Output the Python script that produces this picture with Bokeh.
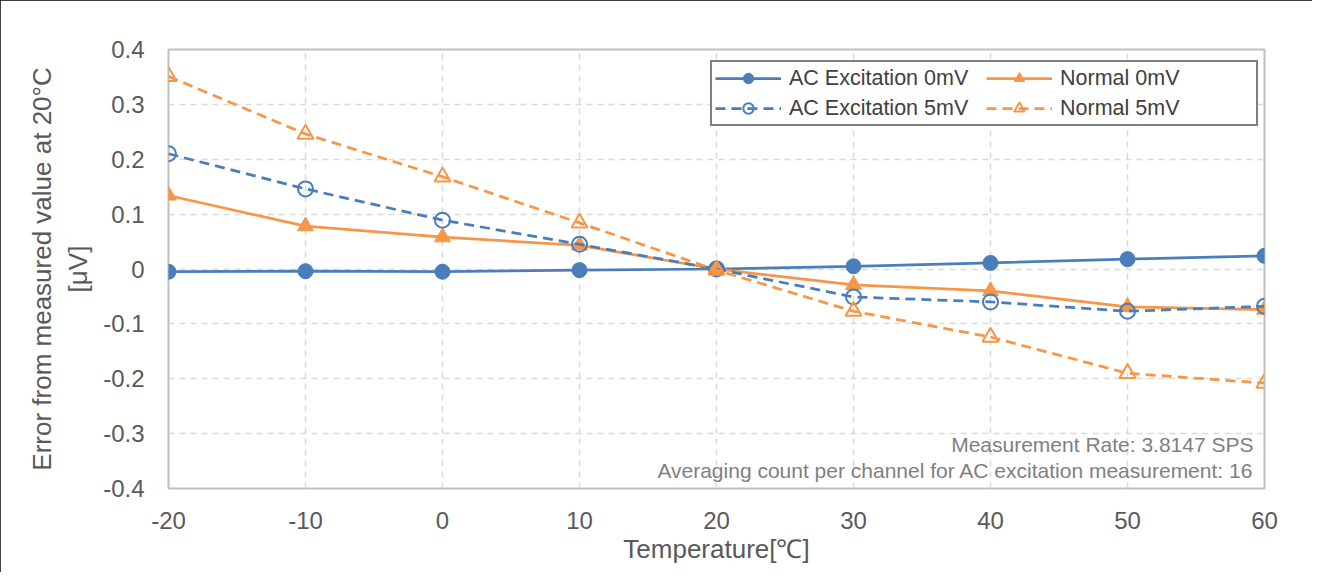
from bokeh.plotting import figure
from bokeh.models import Legend, LegendItem, Label, FixedTicker, Range1d, InlineStyleSheet
from bokeh.embed import file_html
from bokeh.resources import INLINE

temps = [-20, -10, 0, 10, 20, 30, 40, 50, 60]
ac_0mv = [-0.005, -0.004, -0.005, -0.002, 0.0, 0.005, 0.011, 0.018, 0.024]
normal_0mv = [0.134, 0.078, 0.058, 0.043, 0.0, -0.029, -0.040, -0.069, -0.074]
ac_5mv = [0.210, 0.146, 0.089, 0.045, 0.0, -0.051, -0.060, -0.077, -0.068]
normal_5mv = [0.351, 0.246, 0.168, 0.084, -0.002, -0.077, -0.124, -0.190, -0.208]
x_ticks = [-20, -10, 0, 10, 20, 30, 40, 50, 60]
y_ticks = [-0.4, -0.3, -0.2, -0.1, 0, 0.1, 0.2, 0.3, 0.4]
notes = ["Measurement Rate: 3.8147 SPS",
         "Averaging count per channel for AC excitation measurement: 16"]

BLUE = "#4a7ebb"
ORANGE = "#f79646"
FONT = "Liberation Sans"

border_css = InlineStyleSheet(css=":host { outline: 2px solid black; outline-offset: -2px; }")

p = figure(width=1312, height=572, output_backend="svg", toolbar_location=None,
           x_range=Range1d(-20, 60), y_range=Range1d(-0.4, 0.4),
           min_border_left=168, min_border_right=48, min_border_top=49, min_border_bottom=84,
           stylesheets=[border_css])
p.background_fill_color = "white"
p.border_fill_color = "white"
p.outline_line_color = "#bfbfbf"
p.outline_line_width = 2

for ax in (p.xaxis[0], p.yaxis[0]):
    ax.axis_line_color = None
    ax.major_tick_line_color = None
    ax.minor_tick_line_color = None
    ax.major_tick_out = 0
    ax.major_tick_in = 0
    ax.major_label_text_font = FONT
    ax.major_label_text_font_size = "24px"
    ax.major_label_text_color = "#595959"
    ax.axis_label_text_font = FONT
    ax.axis_label_text_font_size = "26px"
    ax.axis_label_text_color = "#595959"
    ax.axis_label_text_font_style = "normal"

p.xaxis.ticker = FixedTicker(ticks=x_ticks)
p.yaxis.ticker = FixedTicker(ticks=y_ticks)
p.xaxis.major_label_overrides = {v: str(v) for v in x_ticks}
p.yaxis.major_label_overrides = {v: ("0" if v == 0 else f"{v:.1f}") for v in y_ticks}
p.xaxis.major_label_standoff = 23
p.yaxis.major_label_standoff = 24
p.xaxis.axis_label = "Temperature[℃]"
p.yaxis.axis_label = "Error from measured value at 20°C\n[μV]"
p.xaxis.axis_label_standoff = 2
p.yaxis.axis_label_standoff = 7

p.grid.grid_line_color = "#d9d9d9"
p.grid.grid_line_dash = "6 5"
p.grid.grid_line_width = 1.5

l1 = p.line(temps, ac_0mv, color=BLUE, line_width=2.75)
m1 = p.scatter(temps, ac_0mv, marker="circle", size=15, color=BLUE)
l2 = p.line(temps, normal_0mv, color=ORANGE, line_width=2.75)
m2 = p.scatter(temps, normal_0mv, marker="triangle", size=16, color=ORANGE)
l3 = p.line(temps, ac_5mv, color=BLUE, line_width=2.75, line_dash="10 6")
m3 = p.scatter(temps, ac_5mv, marker="circle", size=15, line_color=BLUE,
               fill_color="white", fill_alpha=0.0, line_width=2)
l4 = p.line(temps, normal_5mv, color=ORANGE, line_width=2.75, line_dash="10 6")
m4 = p.scatter(temps, normal_5mv, marker="triangle", size=16, line_color=ORANGE,
               fill_color="white", fill_alpha=0.0, line_width=2)

legend = Legend(items=[
    LegendItem(label="AC Excitation 0mV", renderers=[l1, m1]),
    LegendItem(label="AC Excitation 5mV", renderers=[l3, m3]),
    LegendItem(label="Normal 0mV", renderers=[l2, m2]),
    LegendItem(label="Normal 5mV", renderers=[l4, m4]),
], location=(542, 362), ncols=2)
legend.glyph_width = 66
legend.glyph_height = 26
legend.label_width = 193
legend.label_text_font = FONT
legend.label_text_font_size = "21.5px"
legend.label_text_color = "#404040"
legend.border_line_color = "black"
legend.border_line_width = 2
legend.padding = 3
legend.spacing = 4
legend.label_standoff = 8
legend.margin = 0
legend.background_fill_alpha = 1.0
p.add_layout(legend, "center")

note_y = [-0.32, -0.367]
for txt, yy in zip(notes, note_y):
    p.add_layout(Label(x=60, y=yy, text=txt, x_offset=-11, text_align="right",
                       text_baseline="middle", text_font=FONT, text_font_size="21px",
                       text_color="#7f7f7f"))

open("out.html", "w").write(file_html(p, INLINE))
